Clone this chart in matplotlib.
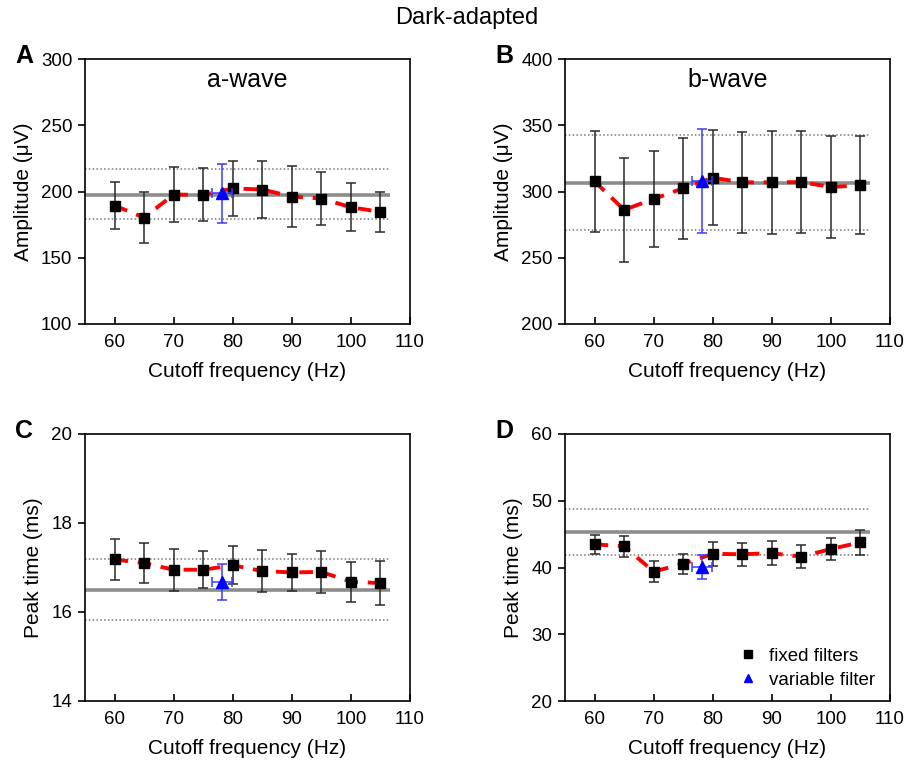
import matplotlib
matplotlib.use("Agg")
import matplotlib.pyplot as plt
import numpy as np

plt.rcParams['font.family'] = ['Liberation Sans', 'DejaVu Sans']

freq = [60, 65, 70, 75, 80, 85, 90, 95, 100, 105]
var_freq = 78.2
var_ferr = 1.7

# Panel A: a-wave amplitude
a_amp = [189.4, 180.3, 197.7, 197.4, 202.3, 201.5, 196.2, 194.7, 188.1, 184.6]
a_amp_err = [17.5, 19.0, 21.0, 20.0, 21.0, 21.5, 23.0, 20.0, 18.0, 15.3]
a_var = 198.5
a_var_err = 22.6
a_ref = [197.0, 216.7, 179.5]

# Panel B: b-wave amplitude
b_amp = [307.7, 286.1, 294.4, 302.4, 310.4, 306.9, 306.9, 307.1, 303.4, 304.6]
b_amp_err = [38.0, 39.0, 36.0, 38.0, 36.0, 38.0, 39.0, 38.5, 38.5, 37.0]
b_var = 308.0
b_var_err = 39.0
b_ref = [306.1, 342.7, 270.8]

# Panel C: a-wave peak time
c_pt = [17.18, 17.10, 16.95, 16.95, 17.05, 16.92, 16.89, 16.90, 16.68, 16.65]
c_pt_err = [0.45, 0.44, 0.47, 0.42, 0.43, 0.47, 0.41, 0.47, 0.45, 0.49]
c_var = 16.68
c_var_err = 0.40
c_ref = [16.50, 17.19, 15.81]

# Panel D: b-wave peak time
d_pt = [43.47, 43.17, 39.39, 40.56, 42.04, 41.99, 42.14, 41.63, 42.76, 43.78]
d_pt_err = [1.45, 1.6, 1.58, 1.48, 1.85, 1.75, 1.77, 1.7, 1.7, 1.9]
d_var = 40.1
d_var_err = 1.8
d_ref = [45.36, 48.78, 41.89]

W, H = 914, 762
fig = plt.figure(figsize=(W / 100, H / 100), dpi=100)

def ax_at(l, t, r, b):
    return fig.add_axes([l / W, 1 - b / H, (r - l) / W, (b - t) / H])

panels = [
    dict(box=(85, 59, 410, 324), y=a_amp, e=a_amp_err, v=a_var, ve=a_var_err, ref=a_ref,
         ylim=(100, 300), yticks=[100, 150, 200, 250, 300], ylabel='Amplitude (μV)',
         letter='A', title='a-wave'),
    dict(box=(565, 59, 890, 324), y=b_amp, e=b_amp_err, v=b_var, ve=b_var_err, ref=b_ref,
         ylim=(200, 400), yticks=[200, 250, 300, 350, 400], ylabel='Amplitude (μV)',
         letter='B', title='b-wave'),
    dict(box=(85, 434, 410, 701), y=c_pt, e=c_pt_err, v=c_var, ve=c_var_err, ref=c_ref,
         ylim=(14, 20), yticks=[14, 16, 18, 20], ylabel='Peak time (ms)',
         letter='C', title=None),
    dict(box=(565, 434, 890, 701), y=d_pt, e=d_pt_err, v=d_var, ve=d_var_err, ref=d_ref,
         ylim=(20, 60), yticks=[20, 30, 40, 50, 60], ylabel='Peak time (ms)',
         letter='D', title=None),
]

for i, p in enumerate(panels):
    ax = ax_at(*p['box'])
    ax.set_xlim(55, 110)
    ax.set_ylim(*p['ylim'])
    ax.set_xticks([60, 70, 80, 90, 100, 110])
    ax.set_yticks(p['yticks'])
    ax.tick_params(axis='x', direction='in', length=5, width=1.2, labelsize=13.5, pad=7)
    ax.tick_params(axis='y', direction='out', length=5, width=1.2, labelsize=13.5, pad=4)
    for s in ax.spines.values():
        s.set_linewidth(1.2)
    ref = p['ref']
    ax.hlines(ref[0], 55, 106.6, colors='#8c8c8c', lw=2.6, zorder=1)
    ax.hlines(ref[1:], 55, 106.6, colors='#777777', lw=1.1, linestyles=(0, (1, 1.5)), zorder=1)
    ax.plot(freq, p['y'], color='red', lw=2.8, ls=(0, (3.5, 2.5)), zorder=2)
    ax.errorbar(freq, p['y'], yerr=p['e'], fmt='none', ecolor='#2a2a2a', elinewidth=1.1,
                capsize=3.5, capthick=1.1, zorder=3)
    ax.plot(freq, p['y'], 's', color='black', ms=7, zorder=4, ls='none',
            label='fixed filters')
    ax.errorbar([var_freq], [p['v']], yerr=[p['ve']], xerr=[var_ferr], fmt='none',
                ecolor='#3a3aff', elinewidth=1.1, capsize=3.5, capthick=1.1, zorder=5)
    ax.plot([var_freq], [p['v']], '^', color='blue', ms=8, zorder=6, ls='none',
            label='variable filter')
    ax.set_xlabel('Cutoff frequency (Hz)', fontsize=15, labelpad=8)
    ax.set_ylabel(p['ylabel'], fontsize=15, labelpad=6)
    if p['title']:
        ax.text(0.5, 0.965, p['title'], transform=ax.transAxes, ha='center', va='top',
                fontsize=18)
    l, t, r, b = p['box']
    fig.text((l - 61) / W, 1 - (t - 3) / H, p['letter'], fontsize=18, fontweight='bold',
             ha='center', va='center')
    if p['letter'] == 'D':
        ax.legend(loc='lower right', frameon=False, fontsize=13.5, handletextpad=0.5,
                  handlelength=1.2, borderaxespad=0.4, labelspacing=0.35, markerscale=0.8,
                  bbox_to_anchor=(1.0, -0.01))

fig.text(467 / W, 1 - 18 / H, 'Dark-adapted', ha='center', va='center', fontsize=17)

fig.savefig('out.png', dpi=100)
